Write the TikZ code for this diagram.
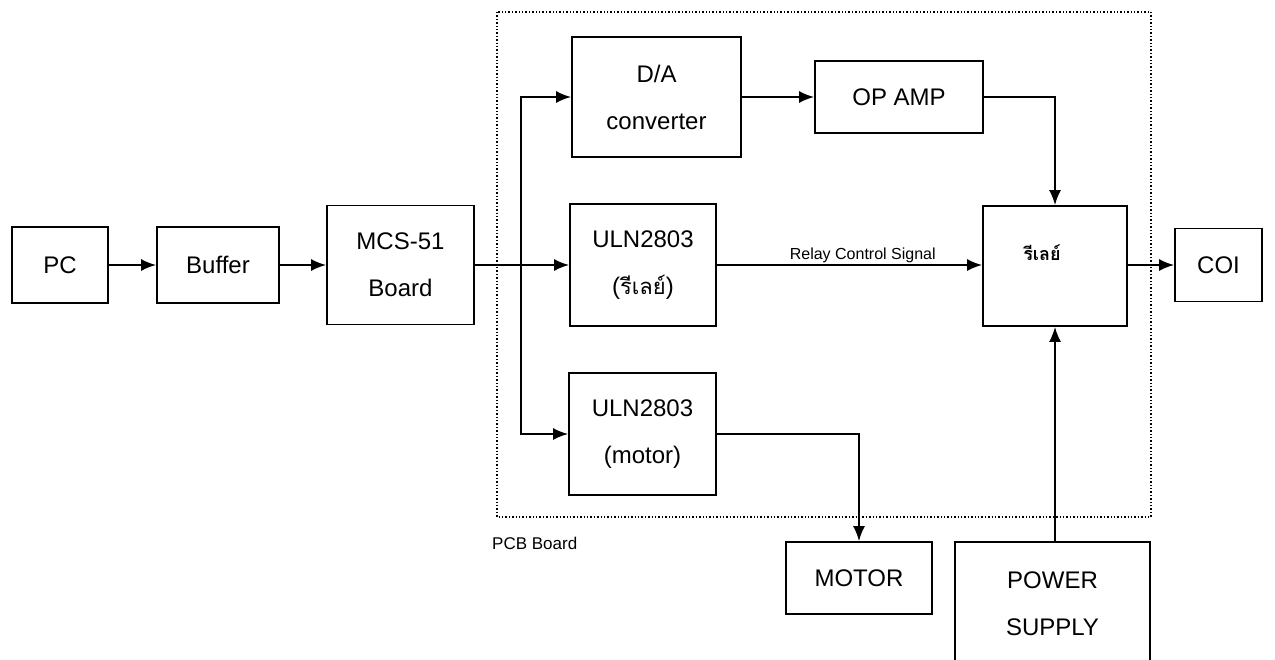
\documentclass[tikz,border=0pt]{standalone}
\usepackage{fontspec}
\setmainfont{Liberation Sans}
\newfontfamily\thaifont[Script=Thai]{Loma}
\usetikzlibrary{arrows.meta}

\begin{document}
\begin{tikzpicture}[x=1pt, y=-1pt,
    every node/.style={font=\fontsize{24}{47}\selectfont, inner sep=0pt, align=center},
    blok/.style={draw, line width=1.8pt},
    sig/.style={-{Latex[length=15pt, width=12pt]}, line width=1.8pt}]

    \useasboundingbox (0,0) rectangle (1275,659);

    % =====================================================
    % PCB board outline
    % =====================================================
    \draw[dotted, line width=1.4pt] (497,12) rectangle (1151,517);
    \node[anchor=west, font=\fontsize{17}{20}\selectfont] (pcblabel) at (492,543) {PCB Board};

    % =====================================================
    % Left chain
    % =====================================================
    \node[blok, minimum width=96pt, minimum height=76pt] (pc) at (60,265) {PC};
    \node[blok, minimum width=122pt, minimum height=76pt] (buffer) at (218,265) {Buffer};
    \node[blok, minimum width=147pt, minimum height=119pt] (mcs) at (400.5,265) {MCS-51\\Board};

    \draw[sig] (pc) -- (buffer);
    \draw[sig] (buffer) -- (mcs);

    % =====================================================
    % Blocks on the board
    % =====================================================
    \node[blok, minimum width=169pt, minimum height=120pt] (da) at (656.5,97) {D/A\\converter};
    \node[blok, minimum width=168pt, minimum height=72pt] (opamp) at (899,97) {OP AMP};
    \node[blok, minimum width=146pt, minimum height=122pt] (ulnr) at (643,265)
        {ULN2803\\({\thaifont\fontsize{22}{47}\selectfont รีเลย์})};
    \node[blok, minimum width=147pt, minimum height=122pt] (ulnm) at (642.5,434) {ULN2803\\(motor)};
    \node[blok, minimum width=144pt, minimum height=120pt] (relay) at (1055,266) {};
    \node[font=\thaifont\bfseries\fontsize{18}{20}\selectfont] (relaytxt) at (1042,253) {รีเลย์};

    % =====================================================
    % Outside blocks
    % =====================================================
    \node[blok, minimum width=87pt, minimum height=73pt] (coi) at (1218.5,265) {COI};
    \node[blok, minimum width=146pt, minimum height=72pt] (motor) at (859,578) {MOTOR};
    \node[blok, minimum width=195pt, minimum height=124pt] (psu) at (1052.5,604) {POWER\\SUPPLY};

    % =====================================================
    % Connections
    % =====================================================
    \coordinate (bus) at (521,265);

    \draw[sig] (mcs) -- (ulnr);
    \draw[sig] (bus) |- (da.west);
    \draw[sig] (bus) |- (ulnm.west);

    \draw[sig] (da) -- (opamp);
    \draw[sig] (opamp.east) -| (relay.north);

    \draw[sig] (ulnr.east) -- node[above=1.5pt, pos=0.55, font=\fontsize{16}{18}\selectfont] (rcs) {Relay Control Signal}
        (ulnr.east -| relay.west);

    \draw[sig] (ulnm.east) -| (motor.north);
    \draw[sig] (relay.south |- psu.north) -- (relay.south);
    \draw[sig] (relay.east |- coi.west) -- (coi.west);

\end{tikzpicture}
\end{document}
